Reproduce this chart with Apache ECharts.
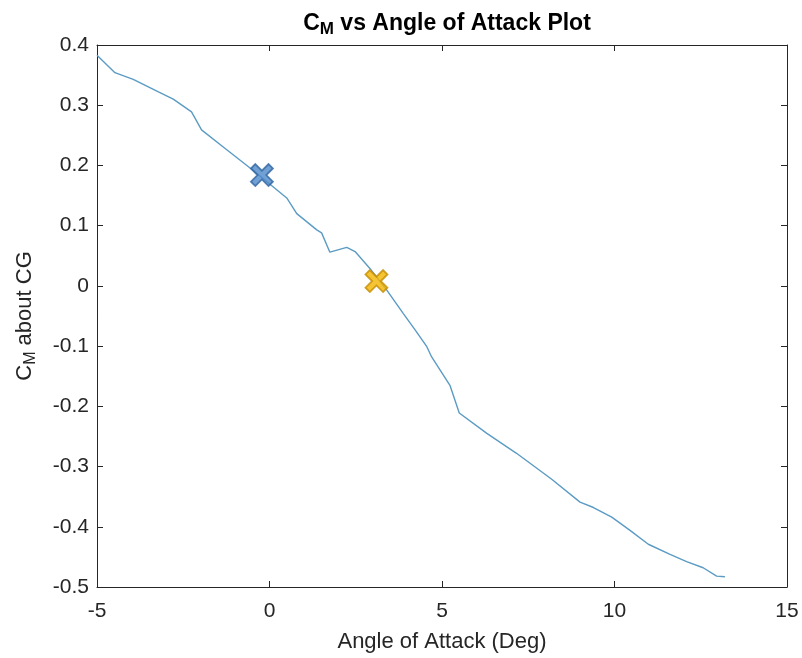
<!DOCTYPE html>
<html>
<head>
<meta charset="utf-8">
<script src="https://cdn.jsdelivr.net/npm/echarts@6/dist/echarts.min.js"></script>
<style>
  html, body { margin: 0; padding: 0; background: #fff; }
  #main { width: 802px; height: 658px; }
</style>
</head>
<body>
<div id="main"></div>
<script>
// data
var angleDeg = [-5.0, -4.96, -4.48, -3.95, -3.22, -2.79, -2.26, -1.97, -1.35, -0.48, 0.5, 0.79, 1.37, 1.51,
  1.75, 2.24, 2.48, 2.91, 3.4, 3.88, 4.22, 4.56, 4.7, 5.23, 5.5, 6.3, 7.16, 8.18, 9.0, 9.39, 9.92, 10.45,
  10.98, 11.61, 12.09, 12.57, 12.96, 13.2];
var cmValues = [0.383, 0.381, 0.354, 0.343, 0.322, 0.31, 0.289, 0.259, 0.231, 0.192, 0.146, 0.12, 0.093, 0.088,
  0.056, 0.064, 0.057, 0.029, -0.007, -0.046, -0.073, -0.101, -0.118, -0.165, -0.211, -0.245, -0.278, -0.321,
  -0.359, -0.368, -0.384, -0.406, -0.429, -0.446, -0.458, -0.468, -0.482, -0.483];
var trimPoint = [-0.22, 0.184];
var zeroPoint = [3.1, 0.008];
var xTicks = [-5, 0, 5, 10, 15];
var yTicks = [-0.5, -0.4, -0.3, -0.2, -0.1, 0, 0.1, 0.2, 0.3, 0.4];

var font = 'Liberation Sans, Arial, sans-serif';
var crossPath = 'path://M2,0 L5,3 L8,0 L10,2 L7,5 L10,8 L8,10 L5,7 L2,10 L0,8 L3,5 L0,2 Z';

var chart = echarts.init(document.getElementById('main'));

function axisBase(pos, show) {
  return {
    type: 'value',
    position: pos,
    axisLine: { show: true, onZero: false, lineStyle: { color: '#262626', width: 1 } },
    axisTick: { show: true, inside: true, length: 6, lineStyle: { color: '#262626' } },
    splitLine: { show: false },
    axisLabel: { show: show, color: '#262626', fontSize: 21, fontFamily: font }
  };
}

var xBottom = axisBase('bottom', true);
xBottom.min = -5; xBottom.max = 15; xBottom.interval = 5;
xBottom.axisLabel.margin = 14;
xBottom.axisLabel.formatter = function (v) {
  return xTicks.indexOf(v) >= 0 ? String(v) : '';
};
xBottom.name = 'Angle of Attack (Deg)';
xBottom.nameLocation = 'middle';
xBottom.nameGap = 44;
xBottom.nameTextStyle = { color: '#262626', fontSize: 22, fontFamily: font };
var xTop = axisBase('top', false);
xTop.min = -5; xTop.max = 15; xTop.interval = 5;

var yLeft = axisBase('left', true);
yLeft.min = -0.5; yLeft.max = 0.4; yLeft.interval = 0.1;
yLeft.axisLabel.margin = 8;
yLeft.axisLabel.formatter = function (v) {
  var r = Math.round(v * 10) / 10;
  return yTicks.indexOf(r) >= 0 ? String(r) : '';
};
yLeft.name = '{a|C}{s|M}{a| about CG}';
yLeft.nameLocation = 'middle';
yLeft.nameGap = 58;
yLeft.nameTextStyle = {
  rich: {
    a: { color: '#262626', fontSize: 22, fontFamily: font },
    s: { color: '#262626', fontSize: 16, fontFamily: font, padding: [12, 0, 0, 0] }
  }
};
var yRight = axisBase('right', false);
yRight.min = -0.5; yRight.max = 0.4; yRight.interval = 0.1;

chart.setOption({
  animation: false,
  backgroundColor: '#fff',
  title: {
    text: '{b|C}{s|M}{b| vs Angle of Attack Plot}',
    left: 442,
    textAlign: 'center',
    top: 4,
    textStyle: {
      rich: {
        b: { fontSize: 23, fontWeight: 'bold', color: '#000', fontFamily: font },
        s: { fontSize: 17, fontWeight: 'bold', color: '#000', fontFamily: font, padding: [12, 0, 0, 0] }
      }
    }
  },
  grid: { left: 97, right: 15, top: 45, bottom: 71, containLabel: false, outerBoundsMode: 'none' },
  xAxis: [xBottom, xTop],
  yAxis: [yLeft, yRight],
  series: [
    {
      type: 'line',
      data: angleDeg.map(function (a, i) { return [a, cmValues[i]]; }),
      showSymbol: false,
      lineStyle: { color: '#5b9bc4', width: 1.4 },
      z: 2
    },
    {
      type: 'scatter',
      data: [trimPoint],
      symbol: crossPath,
      symbolSize: 22,
      itemStyle: { color: '#4d89c9', borderColor: '#2f64a0', borderWidth: 1.8 },
      z: 3
    },
    {
      type: 'scatter',
      data: [zeroPoint],
      symbol: crossPath,
      symbolSize: 22,
      itemStyle: { color: '#f2b400', borderColor: '#c48c00', borderWidth: 1.8 },
      z: 3
    }
  ]
});
</script>
</body>
</html>
